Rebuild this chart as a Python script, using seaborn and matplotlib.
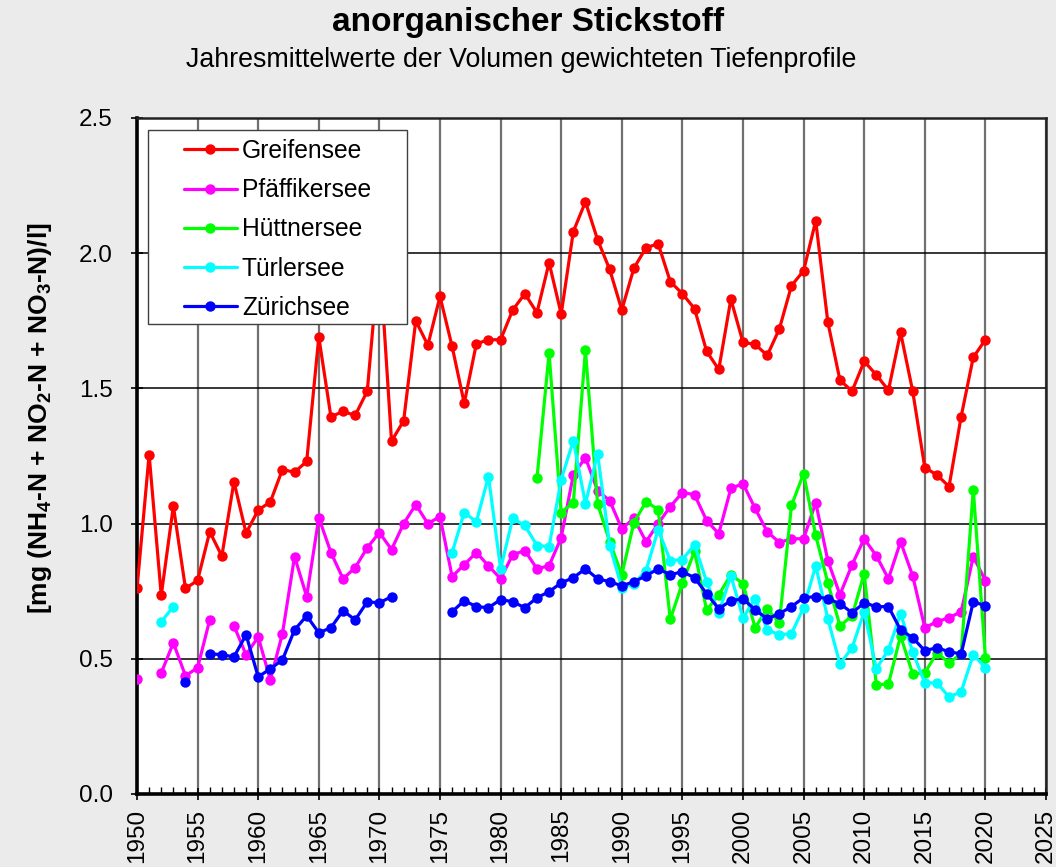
import numpy as np
import pandas as pd
import seaborn as sns
import matplotlib.pyplot as plt
from matplotlib.lines import Line2D
from matplotlib.patches import Rectangle
from matplotlib.ticker import MultipleLocator

nan = np.nan
years = list(range(1950, 2021))

lakes = ['Greifensee', 'Pfäffikersee', 'Hüttnersee', 'Türlersee', 'Zürichsee']
colors = ['#ff0000', '#ff00ff', '#00ff00', '#00ffff', '#0000ff']

greifensee = [0.76, 1.255, 0.735, 1.065, 0.76, 0.79, 0.97, 0.88, 1.155, 0.965,
              1.05, 1.08, 1.20, 1.19, 1.23, 1.69, 1.395, 1.415, 1.40, 1.49,
              2.00, 1.305, 1.38, 1.75, 1.66, 1.84, 1.655, 1.445, 1.665, 1.68,
              1.68, 1.79, 1.85, 1.78, 1.965, 1.775, 2.08, 2.19, 2.05, 1.94,
              1.79, 1.945, 2.02, 2.035, 1.895, 1.85, 1.795, 1.637, 1.57, 1.83,
              1.67, 1.663, 1.622, 1.72, 1.88, 1.935, 2.12, 1.745, 1.53, 1.49,
              1.60, 1.55, 1.493, 1.707, 1.49, 1.207, 1.18, 1.137, 1.396, 1.615,
              1.68]

pfaeffikersee = [0.426, nan, 0.448, 0.559, 0.437, 0.467, 0.644, nan, 0.622, 0.515,
                 0.581, 0.422, 0.593, 0.878, 0.730, 1.022, 0.893, 0.796, 0.837, 0.911,
                 0.967, 0.904, 1.0, 1.07, 1.0, 1.026, 0.804, 0.848, 0.893, 0.844,
                 0.796, 0.885, 0.90, 0.833, 0.844, 0.948, 1.181, 1.244, 1.122, 1.085,
                 0.981, 1.019, 0.933, 1.0, 1.063, 1.115, 1.107, 1.011, 0.963, 1.13,
                 1.148, 1.056, 0.970, 0.930, 0.944, 0.944, 1.078, 0.863, 0.737, 0.848,
                 0.944, 0.881, 0.796, 0.933, 0.807, 0.615, 0.637, 0.652, 0.674, 0.878,
                 0.789]

huettnersee = [nan] * 33 + [
    1.167, 1.63, 1.041, 1.078, 1.641, 1.074, 0.933,
    0.811, 1.004, 1.081, 1.052, 0.646, 0.78, 0.898, 0.68, 0.737, 0.811,
    0.778, 0.615, 0.685, 0.633, 1.067, 1.185, 0.956, 0.781, 0.622, 0.659,
    0.815, 0.404, 0.407, 0.585, 0.444, 0.448, 0.522, 0.485, 0.518, 1.126,
    0.504]

tuerlersee = [nan, nan, 0.637, 0.693] + [nan] * 22 + [
    0.893, 1.041, 1.007, 1.174,
    0.833, 1.019, 0.993, 0.919, 0.915, 1.163, 1.307, 1.074, 1.259, 0.919,
    0.763, 0.778, 0.826, 0.978, 0.863, 0.867, 0.922, 0.785, 0.670, 0.807,
    0.652, 0.722, 0.607, 0.589, 0.593, 0.689, 0.844, 0.648, 0.481, 0.541,
    0.674, 0.463, 0.533, 0.667, 0.526, 0.411, 0.411, 0.359, 0.378, 0.515,
    0.467]

zuerichsee = [nan, nan, nan, nan, 0.415, nan, 0.519, 0.515, 0.507, 0.589,
              0.433, 0.463, 0.496, 0.607, 0.659, 0.596, 0.615, 0.678, 0.644, 0.711,
              0.707, 0.730, nan, nan, nan, nan, 0.674, 0.715, 0.693, 0.689,
              0.719, 0.711, 0.689, 0.726, 0.748, 0.781, 0.80, 0.833, 0.796, 0.785,
              0.770, 0.785, 0.807, 0.833, 0.811, 0.822, 0.80, 0.741, 0.685, 0.715,
              0.722, 0.681, 0.648, 0.667, 0.693, 0.726, 0.730, 0.722, 0.704, 0.670,
              0.707, 0.693, 0.693, 0.607, 0.578, 0.530, 0.541, 0.526, 0.518, 0.711,
              0.696]

series = [greifensee, pfaeffikersee, huettnersee, tuerlersee, zuerichsee]

# long table, gaps split into separate segments so lines don't bridge them
frames = []
for name, vals in zip(lakes, series):
    d = pd.DataFrame({'year': years, 'value': vals})
    d['seg'] = d['value'].isna().cumsum()
    d = d.dropna()
    d['lake'] = name
    d['unit'] = name + '_' + d['seg'].astype(str)
    frames.append(d)
df = pd.concat(frames, ignore_index=True)

sns.set_style('white')
plt.rcParams['font.family'] = ['Liberation Sans', 'DejaVu Sans']
plt.rcParams['text.color'] = 'black'
plt.rcParams['xtick.color'] = 'black'
plt.rcParams['ytick.color'] = 'black'
plt.rcParams['axes.labelcolor'] = 'black'
plt.rcParams['mathtext.fontset'] = 'custom'
plt.rcParams['mathtext.bf'] = 'Liberation Sans:bold'
plt.rcParams['mathtext.rm'] = 'Liberation Sans:bold'
plt.rcParams['mathtext.default'] = 'bf'

fig = plt.figure(figsize=(10.56, 8.67), dpi=100, facecolor='#ebebeb')
ax = fig.add_axes([137 / 1056, 1 - 794 / 867, 909 / 1056, 676 / 867])
ax.set_facecolor('white')

sns.lineplot(data=df, x='year', y='value', hue='lake', units='unit',
             estimator=None, palette=dict(zip(lakes, colors)),
             hue_order=lakes, marker='o', markersize=7.5, markeredgewidth=0,
             linewidth=2.3, legend=False, ax=ax, zorder=3)

ax.set_xlim(1950, 2025)
ax.set_ylim(0, 2.5)
ax.xaxis.set_major_locator(MultipleLocator(5))
ax.xaxis.set_minor_locator(MultipleLocator(1))
ax.yaxis.set_major_locator(MultipleLocator(0.5))
ax.set_yticklabels([f'{v:.1f}' for v in ax.get_yticks()])

ax.grid(axis='y', which='major', color='black', linewidth=1.1, zorder=1)
ax.grid(axis='x', which='major', color='#707070', linewidth=1.6, zorder=1)
ax.set_axisbelow(True)

ax.tick_params(axis='x', which='major', direction='inout', length=9, width=1.2,
               labelsize=17.5, pad=6, labelrotation=90, bottom=True)
ax.tick_params(axis='x', which='minor', direction='in', length=5, width=1,
               bottom=True)
ax.tick_params(axis='y', which='major', direction='inout', length=9, width=1.2,
               labelsize=17.5, pad=13, left=True)

for side in ['top', 'right']:
    ax.spines[side].set_color('#222222')
    ax.spines[side].set_linewidth(1.8)
for side in ['left', 'bottom']:
    ax.spines[side].set_color('black')
    ax.spines[side].set_linewidth(2.6)

ax.set_xlabel('')
ax.set_ylabel('')

# legend box drawn separately for its wide side padding
box = Rectangle((11 / 909, (794 - 324) / 676), (407 - 148) / 909, (324 - 130) / 676,
                transform=ax.transAxes, facecolor='white', edgecolor='#404040',
                linewidth=1.0, zorder=5)
ax.add_patch(box)

handles = [Line2D([], [], color=c, linewidth=2.3, marker='o', markersize=7.5,
                  markeredgewidth=0) for c in colors]
leg = ax.legend(handles, lakes, loc='upper left',
                bbox_to_anchor=((184 - 137) / 909, (794 - 139) / 676),
                borderaxespad=0, borderpad=0, fontsize=17.7, frameon=False,
                handlelength=2.15, handletextpad=0.2, labelspacing=0.62)
leg.set_zorder(6)

fig.text(0.5, 1 - 23 / 867, 'anorganischer Stickstoff', ha='center', va='center',
         fontsize=24, fontweight='bold')
fig.text(521 / 1056, 1 - 60 / 867, 'Jahresmittelwerte der Volumen gewichteten Tiefenprofile',
         ha='center', va='center', fontsize=19.3)
fig.text(40 / 1056, 1 - 418 / 867,
         r'[mg (NH$_4$-N + NO$_2$-N + NO$_3$-N)/l]',
         rotation=90, ha='center', va='center', fontsize=19, fontweight='bold')

fig.savefig('out.png', dpi=100, facecolor=fig.get_facecolor())
